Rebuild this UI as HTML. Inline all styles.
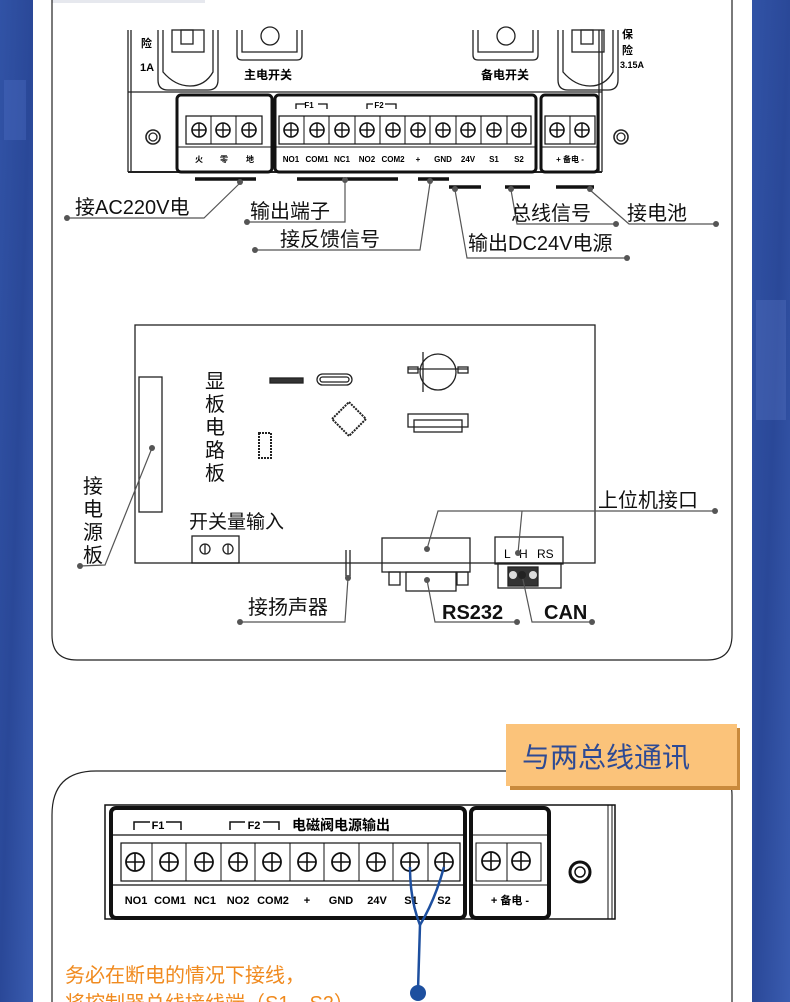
<!DOCTYPE html>
<html><head><meta charset="utf-8"><style>
html,body{margin:0;padding:0;width:790px;height:1002px;overflow:hidden;background:#fff}
svg{display:block}
text{font-family:"Liberation Sans","Noto Sans CJK SC",sans-serif}
</style></head><body>
<svg width="790" height="1002" viewBox="0 0 790 1002" xmlns="http://www.w3.org/2000/svg">
<defs>
<linearGradient id="bl" x1="0" y1="0" x2="1" y2="1">
<stop offset="0" stop-color="#3153a6"/><stop offset="0.5" stop-color="#2a4898"/><stop offset="1" stop-color="#3a5cb0"/></linearGradient>
<g id="sc"><circle r="7" fill="none" stroke="#111" stroke-width="1.6"/><line x1="-7" y1="0" x2="7" y2="0" stroke="#111" stroke-width="1.4"/><line x1="0" y1="-7" x2="0" y2="7" stroke="#111" stroke-width="1.4"/></g>
<g id="sc2"><circle r="9" fill="none" stroke="#111" stroke-width="1.8"/><line x1="-9" y1="0" x2="9" y2="0" stroke="#111" stroke-width="1.6"/><line x1="0" y1="-9" x2="0" y2="9" stroke="#111" stroke-width="1.6"/></g>
</defs>
<rect x="0" y="0" width="33" height="1002" fill="url(#bl)"/>
<rect x="752" y="0" width="38" height="1002" fill="url(#bl)"/>
<rect x="4" y="80" width="22" height="60" fill="#4a6cc0" opacity="0.4"/>
<rect x="756" y="300" width="30" height="120" fill="#5876c4" opacity="0.35"/>
<rect x="52" y="0" width="153" height="3" fill="#e6e8ee"/>
<!-- top card -->
<path d="M52 0 V635 Q52 660 77 660 H707 Q732 660 732 635 V0" fill="none" stroke="#222" stroke-width="1.2"/>
<!-- housing -->
<g fill="none" stroke="#222" stroke-width="1.3">
<line x1="128" y1="30" x2="128" y2="172"/><line x1="131" y1="30" x2="131" y2="172"/>
<line x1="602" y1="30" x2="602" y2="172"/><line x1="599" y1="30" x2="599" y2="172"/>
<line x1="128" y1="92" x2="602" y2="92"/><line x1="128" y1="172" x2="602" y2="172" stroke-width="2"/>
<path d="M158 30 V80 Q158 90 168 90 H208 Q218 90 218 80 V30"/><path d="M163 30 V72 Q175 86 190 86 Q205 86 213 72 V30"/>
<rect x="172" y="30" width="32" height="22"/><rect x="181" y="30" width="12" height="14"/>
<path d="M237 30 V55 Q237 60 242 60 H297 Q302 60 302 55 V30"/><path d="M242 30 V52 H297 V30"/><circle cx="270" cy="36" r="9"/>
<path d="M473 30 V55 Q473 60 478 60 H533 Q538 60 538 55 V30"/><path d="M478 30 V52 H533 V30"/><circle cx="506" cy="36" r="9"/>
<path d="M558 30 V80 Q558 90 568 90 H608 Q618 90 618 80 V30" /><path d="M563 30 V72 Q575 86 590 86 Q605 86 613 72 V30"/>
<rect x="572" y="30" width="32" height="22"/><rect x="581" y="30" width="12" height="14"/>
<circle cx="153" cy="137" r="7" stroke-width="1.6"/><circle cx="153" cy="137" r="4"/>
<circle cx="621" cy="137" r="7" stroke-width="1.6"/><circle cx="621" cy="137" r="4"/>
</g>
<text x="141" y="47" font-size="11" font-weight="bold">险</text><text x="140" y="71" font-size="11" font-weight="bold">1A</text>
<text x="622" y="38" font-size="11" font-weight="bold">保</text><text x="622" y="54" font-size="11" font-weight="bold">险</text><text x="620" y="68" font-size="9" font-weight="bold">3.15A</text>
<text x="244" y="79" font-size="12" font-weight="bold">主电开关</text>
<text x="481" y="79" font-size="12" font-weight="bold">备电开关</text>
<!-- terminal blocks top -->
<g fill="none" stroke="#111">
<rect x="177" y="95" width="95" height="77" rx="4" stroke-width="3"/>
<rect x="186" y="116" width="76" height="28" stroke-width="1.2"/><line x1="211" y1="116" x2="211" y2="144"/><line x1="236" y1="116" x2="236" y2="144"/>
<line x1="177" y1="147" x2="272" y2="147"/>
<rect x="275" y="95" width="261" height="77" rx="4" stroke-width="3"/>
<rect x="279" y="116" width="252" height="28" stroke-width="1.2"/>
<line x1="275" y1="147" x2="536" y2="147"/>
<rect x="541" y="95" width="57" height="77" rx="4" stroke-width="3"/>
<rect x="545" y="116" width="50" height="28" stroke-width="1.2"/><line x1="570" y1="116" x2="570" y2="144"/>
<line x1="541" y1="147" x2="598" y2="147"/>
<path d="M296 109 V104 H306 M318 104 H327 V109 M367 109 V104 H373 M385 104 H396 V109" stroke-width="1.3"/>
</g>
<g stroke="#111" stroke-width="1"><line x1="304" y1="116" x2="304" y2="144"/><line x1="329" y1="116" x2="329" y2="144"/><line x1="355" y1="116" x2="355" y2="144"/><line x1="380" y1="116" x2="380" y2="144"/><line x1="405" y1="116" x2="405" y2="144"/><line x1="430" y1="116" x2="430" y2="144"/><line x1="456" y1="116" x2="456" y2="144"/><line x1="481" y1="116" x2="481" y2="144"/><line x1="507" y1="116" x2="507" y2="144"/></g>
<use href="#sc" x="199" y="130"/><use href="#sc" x="223" y="130"/><use href="#sc" x="249" y="130"/>
<use href="#sc" x="291" y="130"/><use href="#sc" x="317" y="130"/><use href="#sc" x="342" y="130"/><use href="#sc" x="367" y="130"/><use href="#sc" x="393" y="130"/><use href="#sc" x="418" y="130"/><use href="#sc" x="443" y="130"/><use href="#sc" x="468" y="130"/><use href="#sc" x="494" y="130"/><use href="#sc" x="519" y="130"/>
<use href="#sc" x="557" y="130"/><use href="#sc" x="582" y="130"/>
<text x="309" y="108" font-size="8" font-weight="bold" text-anchor="middle">F1</text><text x="379" y="108" font-size="8" font-weight="bold" text-anchor="middle">F2</text>
<g font-size="8" font-weight="bold" text-anchor="middle">
<text x="199" y="162">火</text><text x="224" y="162">零</text><text x="250" y="162">地</text>
<text x="291" y="162">NO1</text><text x="317" y="162">COM1</text><text x="342" y="162">NC1</text><text x="367" y="162">NO2</text><text x="393" y="162">COM2</text><text x="418" y="162">+</text><text x="443" y="162">GND</text><text x="468" y="162">24V</text><text x="494" y="162">S1</text><text x="519" y="162">S2</text>
<text x="570" y="162">+ 备电 -</text></g>
<!-- bars -->
<g stroke="#111" stroke-width="3.5">
<line x1="195" y1="179" x2="256" y2="179"/><line x1="297" y1="179" x2="398" y2="179"/><line x1="418" y1="179" x2="449" y2="179"/>
<line x1="449" y1="187" x2="481" y2="187"/><line x1="505" y1="187" x2="530" y2="187"/><line x1="556" y1="187" x2="594" y2="187"/></g>
<g stroke="#555" stroke-width="1.2" fill="none">
<polyline points="240,183 204,218 67,218"/><polyline points="345,180 345,222 247,222"/>
<polyline points="430,183 420,250 255,250"/><polyline points="455,190 467,258 627,258"/>
<polyline points="511,190 517,224 616,224"/><polyline points="590,190 629,224 716,224"/></g>
<g fill="#555"><circle cx="240" cy="182" r="3"/><circle cx="67" cy="218" r="3"/><circle cx="345" cy="180" r="3"/><circle cx="247" cy="222" r="3"/><circle cx="430" cy="181" r="3"/><circle cx="255" cy="250" r="3"/><circle cx="455" cy="189" r="3"/><circle cx="627" cy="258" r="3"/><circle cx="511" cy="189" r="3"/><circle cx="616" cy="224" r="3"/><circle cx="590" cy="189" r="3"/><circle cx="716" cy="224" r="3"/></g>
<g font-size="20" fill="#111">
<text x="75" y="214">接AC220V电</text><text x="250" y="218">输出端子</text><text x="280" y="246">接反馈信号</text>
<text x="468" y="250">输出DC24V电源</text><text x="511" y="220">总线信号</text><text x="627" y="220">接电池</text></g>
<!-- board -->
<g fill="none" stroke="#222" stroke-width="1.3">
<rect x="135" y="325" width="460" height="238"/>
<rect x="139" y="377" width="23" height="135"/>
<rect x="192" y="536" width="47" height="27"/><circle cx="205" cy="549" r="5"/><line x1="205" y1="544" x2="205" y2="554"/><circle cx="228" cy="549" r="5"/><line x1="228" y1="544" x2="228" y2="554"/>
<rect x="270" y="378" width="33" height="5" fill="#333"/>
<rect x="317" y="374" width="35" height="11" rx="5.5"/><rect x="320" y="377" width="29" height="5" rx="2.5"/>
<rect x="337" y="407" width="24" height="24" transform="rotate(45 349 419)" stroke-width="2" stroke-dasharray="2 1"/>
<rect x="259" y="433" width="12" height="25" stroke-width="2" stroke-dasharray="2 1"/>
<circle cx="438" cy="372" r="18"/><line x1="408" y1="369" x2="468" y2="369"/><rect x="408" y="367" width="10" height="6"/><rect x="458" y="367" width="10" height="6"/><line x1="423" y1="352" x2="423" y2="392"/>
<rect x="408" y="414" width="60" height="13"/><rect x="414" y="420" width="48" height="12"/>
<rect x="382" y="538" width="88" height="34"/><rect x="406" y="572" width="50" height="19"/><rect x="389" y="572" width="11" height="13"/><rect x="457" y="572" width="11" height="13"/>
<rect x="495" y="537" width="68" height="27"/><rect x="498" y="563" width="63" height="25"/>
<rect x="508" y="567" width="30" height="19" fill="#333"/>
<line x1="346" y1="550" x2="346" y2="578"/><line x1="350" y1="550" x2="350" y2="578"/>
</g>
<g fill="#ddd"><circle cx="513" cy="575" r="4"/><circle cx="533" cy="575" r="4"/></g>
<text x="504" y="558" font-size="12" font-family="Liberation Serif">L</text><text x="519" y="558" font-size="12" font-family="Liberation Serif">H</text><text x="537" y="558" font-size="12" font-family="Liberation Serif">RS</text>
<g stroke="#555" stroke-width="1.2" fill="none">
<polyline points="152,448 105,565 80,566"/><polyline points="348,578 345,622 240,622"/>
<polyline points="427,549 438,511 715,511"/><polyline points="522,511 518,553"/>
<polyline points="427,580 435,622 517,622"/><polyline points="522,575 532,622 592,622"/></g>
<g fill="#555"><circle cx="152" cy="448" r="3"/><circle cx="80" cy="566" r="3"/><circle cx="348" cy="578" r="3"/><circle cx="240" cy="622" r="3"/><circle cx="427" cy="549" r="3"/><circle cx="715" cy="511" r="3"/><circle cx="518" cy="553" r="3"/><circle cx="427" cy="580" r="3"/><circle cx="517" cy="622" r="3"/><circle cx="522" cy="575" r="4" fill="#222"/><circle cx="592" cy="622" r="3"/></g>
<g font-size="20" fill="#111">
<text x="205" y="388">显</text><text x="205" y="411">板</text><text x="205" y="434">电</text><text x="205" y="457">路</text><text x="205" y="480">板</text>
<text x="83" y="493">接</text><text x="83" y="516">电</text><text x="83" y="539">源</text><text x="83" y="562">板</text>
<text x="189" y="528" font-size="19">开关量输入</text><text x="598" y="507">上位机接口</text>
<text x="248" y="614">接扬声器</text><text x="442" y="619" font-weight="bold">RS232</text><text x="544" y="619" font-weight="bold">CAN</text></g>
<!-- bottom card -->
<path d="M52 1002 V815 Q52 771 96 771 H708 Q732 771 732 795 V1002" fill="none" stroke="#222" stroke-width="1.2"/>
<rect x="510" y="728" width="230" height="62" fill="#c98a3c"/>
<rect x="506" y="724" width="231" height="62" fill="#fbc37a"/>
<text x="522" y="767" font-size="28" fill="#2d4a94">与两总线通讯</text>
<!-- bottom device -->
<g fill="none" stroke="#111">
<rect x="105" y="805" width="510" height="114" stroke-width="1.5"/><line x1="608" y1="805" x2="608" y2="919"/><line x1="612" y1="805" x2="612" y2="919"/>
<rect x="111" y="808" width="354" height="110" rx="5" stroke-width="4"/>
<line x1="113" y1="835" x2="463" y2="835" stroke-width="1.2"/><line x1="113" y1="885" x2="463" y2="885" stroke-width="1.2"/>
<rect x="121" y="843" width="339" height="38" stroke-width="1.2"/>
<rect x="471" y="808" width="78" height="110" rx="5" stroke-width="4"/>
<line x1="473" y1="835" x2="547" y2="835"/><line x1="473" y1="885" x2="547" y2="885"/>
<rect x="476" y="843" width="65" height="38"/><line x1="507" y1="843" x2="507" y2="881"/>
<circle cx="580" cy="872" r="10" stroke-width="3"/><circle cx="580" cy="872" r="5" stroke-width="1.5"/>
<path d="M134 830 V822 H150 M166 822 H181 V830 M230 830 V822 H245 M263 822 H279 V830" stroke-width="1.5"/>
</g>
<g stroke="#111" stroke-width="1"><line x1="152" y1="843" x2="152" y2="881"/><line x1="186" y1="843" x2="186" y2="881"/><line x1="221" y1="843" x2="221" y2="881"/><line x1="255" y1="843" x2="255" y2="881"/><line x1="290" y1="843" x2="290" y2="881"/><line x1="324" y1="843" x2="324" y2="881"/><line x1="359" y1="843" x2="359" y2="881"/><line x1="393" y1="843" x2="393" y2="881"/><line x1="428" y1="843" x2="428" y2="881"/></g>
<use href="#sc2" x="135" y="862"/><use href="#sc2" x="169" y="862"/><use href="#sc2" x="204" y="862"/><use href="#sc2" x="238" y="862"/><use href="#sc2" x="272" y="862"/><use href="#sc2" x="307" y="862"/><use href="#sc2" x="341" y="862"/><use href="#sc2" x="376" y="862"/><use href="#sc2" x="410" y="862"/><use href="#sc2" x="444" y="862"/>
<use href="#sc2" x="491" y="861"/><use href="#sc2" x="521" y="861"/>
<g font-size="11" font-weight="bold" text-anchor="middle">
<text x="158" y="829">F1</text><text x="254" y="829">F2</text>
<text x="136" y="904">NO1</text><text x="170" y="904">COM1</text><text x="205" y="904">NC1</text><text x="238" y="904">NO2</text><text x="273" y="904">COM2</text><text x="307" y="904">+</text><text x="341" y="904">GND</text><text x="377" y="904">24V</text><text x="411" y="904">S1</text><text x="444" y="904">S2</text>
<text x="510" y="904">+ 备电 -</text></g>
<text x="292" y="830" font-size="14" font-weight="bold">电磁阀电源输出</text>
<g stroke="#1d4f9f" stroke-width="2.5" fill="none">
<path d="M410 867 Q410 900 420 925 L418 990"/><path d="M444 867 Q435 900 420 925"/></g>
<circle cx="418" cy="993" r="8" fill="#1d4f9f"/>
<text x="65" y="982" font-size="20" fill="#f08a1e">务必在断电的情况下接线，</text>
<text x="65" y="1010" font-size="20" fill="#f08a1e">将控制器总线接线端（S1、S2）</text>
</svg>
</body></html>
